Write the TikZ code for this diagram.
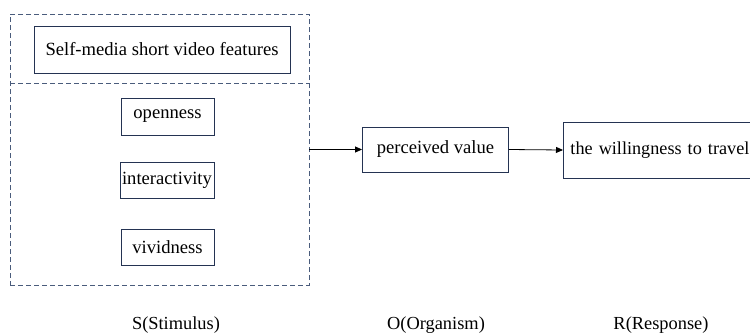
\documentclass[tikz,border=0pt]{standalone}
\usepackage{fontspec}
\setmainfont{Liberation Serif}
\usetikzlibrary{arrows.meta}
\definecolor{boxline}{HTML}{243352}
\definecolor{dashline}{HTML}{4A5C7C}
\tikzset{
  featbox/.style={draw=boxline, line width=0.9pt, inner sep=0pt, font=\fontsize{18.6}{22}\selectfont},
  groupbox/.style={draw=dashline, line width=0.9pt, dash pattern=on 5pt off 3pt, inner sep=0pt},
  flow/.style={draw=black, line width=0.8pt, -{Triangle[length=7pt,width=6pt]}},
  stagelabel/.style={font=\fontsize{18.4}{22}\selectfont}
}
\begin{document}
\begin{tikzpicture}[x=1pt,y=-1pt]
\useasboundingbox (0,0) rectangle (750,333);

% stimulus group
\node[groupbox, minimum width=299pt, minimum height=271pt] (outer) at (159.5,149.5) {};
\coordinate (divl) at (10,83);
\coordinate (divr) at (309,83);
\draw[draw=dashline, line width=0.9pt, dash pattern=on 5pt off 3pt] (divl) -- (divr);

\node[featbox, minimum width=256pt, minimum height=47pt] (title) at (162,49.5) {Self-media short video features};
\node[featbox, minimum width=93pt, minimum height=37pt] (open) at (167.5,116.5) {openness};
\node[featbox, minimum width=94pt, minimum height=36pt] (inter) at (167,180) {interactivity};
\node[featbox, minimum width=93pt, minimum height=36pt] (vivid) at (167.5,247) {vividness};

% organism and response
\node[featbox, minimum width=146pt, minimum height=45pt] (pv) at (435.5,149.5) {perceived value};
\node[featbox, font=\fontsize{18.2}{22}\selectfont, anchor=west, minimum height=56pt, text width=186pt, inner xsep=7pt, align=left] (will) at (563,150) {the willingness to travel};

\draw[flow] (outer.east) -- (pv.west);
\draw[flow] (pv.east) -- (will.west);

% stage labels
\node[stagelabel] (ls) at (176,325) {S(Stimulus)};
\node[stagelabel] (lo) at (436,325) {O(Organism)};
\node[stagelabel] (lr) at (661,325) {R(Response)};
\end{tikzpicture}
\end{document}
